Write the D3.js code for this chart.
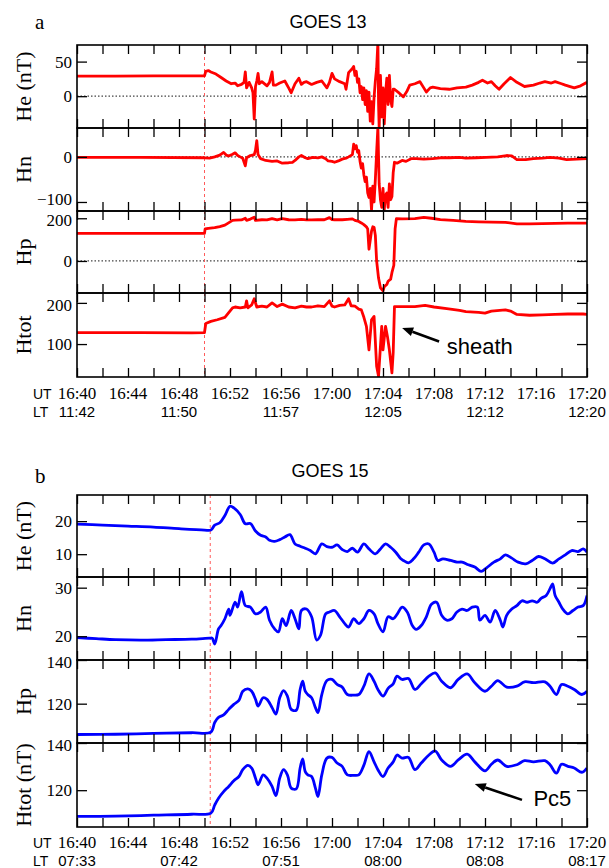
<!DOCTYPE html>
<html>
<head>
<meta charset="utf-8">
<script src="https://cdn.jsdelivr.net/npm/d3@7"></script>
<style>
  body { margin: 0; background: #fff; }
  svg { display: block; }
</style>
</head>
<body>
<svg id="chart" width="609" height="868"></svg>
<script>
// time is in minutes after 16:40 UT
const utLabels = ["16:40", "16:44", "16:48", "16:52", "16:56", "17:00", "17:04", "17:08", "17:12", "17:16", "17:20"];
const ltTimes = [0, 8, 16, 24, 32, 40];
const ltLabels13 = ["11:42", "11:50", "11:57", "12:05", "12:12", "12:20"];
const ltLabels15 = ["07:33", "07:42", "07:51", "08:00", "08:08", "08:17"];
const onset13 = 10.0;
const onset15 = 10.45;

// GOES 13 (nT)
const g13He = [[0,29],[3,29],[6,29.5],[9,29.5],[10,29.5],[10.1,36],[10.3,37],[10.5,35],[10.9,32],[11.3,27],[11.7,22],[12.1,18],[12.4,19],[12.6,15],[12.9,17],[13.1,20],[13.2,35],[13.3,12],[13.5,20],[13.7,12],[13.8,5],[13.9,-33],[14.0,14],[14.1,22],[14.2,33],[14.3,18],[14.5,21],[14.9,15],[15.1,20],[15.3,35],[15.4,16],[15.6,16],[15.9,19],[16.3,22],[16.6,12],[16.8,5],[17.1,18],[17.4,26],[17.6,17],[17.8,20],[18.0,21],[18.4,17],[18.8,20],[19.2,22],[19.6,12],[19.8,20],[20.0,33],[20.2,25],[20.6,21],[21.0,18],[21.1,10],[21.3,34],[21.6,40],[21.7,43],[21.8,30],[21.9,36],[22.0,20],[22.1,25],[22.2,5],[22.3,14],[22.4,-5],[22.5,12],[22.6,-12],[22.7,8],[22.8,-22],[22.9,6],[23.0,-36],[23.1,-8],[23.2,-40],[23.3,-2],[23.4,22],[23.5,40],[23.6,78],[23.65,-10],[23.7,-46],[23.8,30],[23.9,-30],[24.0,12],[24.1,-40],[24.2,5],[24.3,26],[24.4,-12],[24.5,30],[24.6,-5],[24.7,-15],[24.8,10],[24.9,10],[25.3,4],[25.6,-1],[25.9,8],[26.1,16],[26.5,18],[26.9,21],[27.2,12],[27.4,6],[27.7,12],[27.9,13],[28.5,11],[29.2,10],[29.8,12],[30.5,13],[31.0,16],[31.5,20],[31.8,23],[32.2,19],[32.5,21],[32.8,15],[33.1,10],[33.5,18],[34.0,27],[34.5,20],[35.1,14],[35.8,16],[36.3,19],[36.7,21],[37.2,19],[37.5,21],[38.0,18],[38.3,16],[39.0,12],[39.5,15],[40,20]];
const g13Hn = [[0,-1],[5,-1],[10,-2],[10.4,-3],[10.8,0],[11.2,4],[11.5,10],[11.7,4],[11.9,2],[12.2,6],[12.4,9],[12.6,3],[12.8,0],[13.0,-3],[13.2,-20],[13.3,-2],[13.6,3],[13.9,5],[14.0,15],[14.1,36],[14.2,5],[14.4,-4],[14.8,-8],[15.3,-10],[15.7,-9],[16.1,-14],[16.6,-13],[16.9,-12],[17.1,-8],[17.4,0],[17.6,3],[17.9,-2],[18.1,-4],[18.5,-1],[18.9,-2],[19.2,0],[19.5,-4],[19.7,-9],[20.0,-10],[20.2,-12],[20.5,-9],[20.8,-5],[21.1,-3],[21.3,0],[21.6,5],[21.7,28],[21.8,18],[21.9,25],[22.0,10],[22.1,14],[22.2,-10],[22.3,-25],[22.4,-15],[22.5,-40],[22.6,-55],[22.7,-45],[22.8,-80],[22.9,-90],[23.0,-70],[23.1,-118],[23.2,-65],[23.3,-100],[23.4,-50],[23.5,10],[23.6,66],[23.65,0],[23.7,-60],[23.8,-95],[23.9,-112],[24.0,-70],[24.1,-117],[24.2,-85],[24.3,-80],[24.4,-112],[24.5,-60],[24.6,-95],[24.7,-88],[24.8,-35],[24.9,-12],[25.1,-14],[25.5,-8],[25.8,-10],[26.2,-4],[26.6,-4],[27.2,-5],[27.9,-4],[28.5,-2],[29.2,-2],[30.0,-1],[30.5,-3],[31.3,-2],[32.1,-1],[33.0,0],[33.7,3],[34.1,2],[34.5,-6],[35.2,-6],[35.8,-4],[36.5,-3],[37.1,-1],[37.8,-3],[38.4,-6],[39.2,-5],[40,-4]];
const g13Hp = [[0,129],[5,129],[10,129],[10.05,150],[10.3,153],[10.8,156],[11.2,161],[11.6,168],[12.2,190],[12.4,191],[12.9,192],[13.2,200],[13.3,190],[13.6,196],[13.9,205],[14.0,190],[14.5,193],[14.9,192],[15.3,198],[15.7,193],[16.1,198],[16.6,193],[17.1,192],[17.6,195],[18.0,192],[18.4,192],[18.9,194],[19.4,193],[19.8,203],[20.0,194],[20.2,193],[20.8,193],[21.2,195],[21.6,197],[21.8,190],[22.1,185],[22.3,178],[22.5,170],[22.7,160],[22.8,150],[22.9,55],[23.1,140],[23.2,160],[23.3,158],[23.4,120],[23.5,0],[23.65,-80],[23.8,-126],[24.0,-140],[24.1,-120],[24.3,-110],[24.4,-95],[24.6,-85],[24.7,-55],[24.85,-20],[24.95,150],[25.05,198],[25.5,197],[26.5,198],[27.2,204],[27.8,200],[28.5,194],[29.5,190],[30.5,185],[31.5,183],[32.5,182],[33.6,181],[34.5,174],[35.5,174],[36.5,175],[37.5,176],[38.5,177],[39.7,177],[40,177]];
const g13Htot = [[0,128],[5,128],[9,127],[10,128],[10.1,150],[10.5,155],[11.0,159],[11.6,165],[12.2,188],[12.4,190],[12.8,188],[13.2,190],[13.3,205],[13.4,188],[13.7,195],[13.9,210],[14.1,190],[14.5,192],[14.9,190],[15.3,200],[15.7,191],[16.1,197],[16.6,190],[17.1,188],[17.6,192],[18.0,190],[18.4,190],[18.9,193],[19.4,191],[19.8,205],[20.0,192],[20.2,190],[20.6,194],[21.0,195],[21.3,210],[21.5,193],[21.8,192],[22.1,185],[22.3,183],[22.5,165],[22.7,143],[22.9,86],[23.1,159],[23.3,167],[23.5,46],[23.65,22],[23.9,143],[24.0,86],[24.2,143],[24.35,118],[24.5,86],[24.7,30],[24.8,80],[24.9,191],[25.5,191],[26.5,191],[27.3,194],[28.0,190],[29.0,186],[30.0,182],[30.5,179],[31.5,177],[32.0,175],[32.5,180],[33.6,183],[34.0,180],[34.5,172],[35.5,170],[36.5,171],[37.5,172],[38.5,173],[39.7,173],[40,172]];

// GOES 15 (nT)
const g15He = [[0,19.1],[2,18.8],[4,18.5],[6,18.2],[8,17.7],[10,17.3],[10.5,17.3],[10.8,18.8],[11.2,19.5],[11.6,21.7],[12.0,24.5],[12.3,24.0],[12.8,22.0],[13.2,19.2],[13.6,19.3],[14.0,17.0],[14.4,15.7],[14.8,15.2],[15.1,14.2],[15.5,13.9],[15.9,14.4],[16.3,15.2],[16.7,15.9],[17.1,13.1],[17.5,12.4],[17.9,11.8],[18.3,11.1],[18.7,10.1],[19.2,13.1],[19.6,12.3],[20.0,12.1],[20.4,12.8],[20.8,11.4],[21.2,10.8],[21.6,11.8],[22.0,10.6],[22.5,13.1],[22.9,11.6],[23.4,10.1],[23.8,11.6],[24.2,13.1],[24.6,12.1],[25.0,10.6],[25.4,8.6],[25.6,8.1],[26.0,7.4],[26.4,8.6],[26.8,10.6],[27.2,12.8],[27.6,13.1],[28.0,10.6],[28.3,8.1],[28.7,8.6],[29.3,8.1],[29.8,7.6],[30.2,7.6],[30.7,6.8],[31.2,6.1],[31.7,4.8],[32.1,5.8],[32.7,7.6],[33.2,8.6],[33.6,9.8],[34.1,8.8],[34.6,7.6],[35.2,7.1],[35.7,8.1],[36.2,9.3],[36.7,8.6],[37.3,7.3],[37.8,8.6],[38.3,9.8],[38.8,11.1],[39.3,10.8],[39.7,11.6],[40,10.6]];
const g15Hn = [[0,19.7],[1.5,19.5],[3,19.3],[5,19.2],[7,19.3],[9,19.4],[10.4,19.6],[10.6,19.6],[10.8,18.4],[11.1,21.5],[11.3,22.2],[11.6,23.6],[11.9,25.6],[12.0,24.3],[12.4,27.0],[12.6,26.0],[12.9,29.2],[13.2,26.3],[13.6,26.0],[14.0,24.6],[14.4,25.0],[14.8,26.0],[15.1,23.3],[15.5,21.5],[15.8,20.9],[16.1,23.6],[16.4,22.2],[16.8,25.3],[17.1,23.6],[17.4,21.5],[17.6,25.3],[18.0,25.6],[18.4,24.0],[18.8,19.2],[19.1,20.2],[19.5,24.6],[19.8,25.0],[20.2,25.3],[20.6,24.0],[21.0,22.6],[21.3,21.9],[21.7,23.6],[22.1,22.6],[22.5,23.6],[22.9,25.3],[23.3,24.6],[23.6,22.6],[24.0,20.9],[24.4,24.0],[24.8,23.6],[25.1,24.5],[25.5,26.0],[25.9,25.0],[26.3,22.2],[26.6,21.4],[27.0,22.2],[27.4,24.0],[27.8,26.6],[28.2,27.0],[28.6,24.3],[29.0,23.3],[29.4,23.6],[29.8,25.0],[30.2,25.6],[30.6,25.3],[31.0,26.0],[31.4,26.0],[31.6,23.3],[32.0,24.3],[32.4,22.9],[32.8,25.3],[33.2,23.3],[33.4,21.9],[33.7,24.3],[34.1,25.6],[34.5,26.3],[34.9,27.3],[35.3,27.0],[35.7,27.3],[36.1,27.0],[36.4,27.8],[36.8,28.4],[37.1,29.8],[37.3,30.8],[37.5,28.4],[37.8,27.0],[38.1,25.6],[38.5,24.6],[38.9,25.3],[39.3,26.0],[39.7,26.3],[40,28.4]];
const g15Hp = [[0,105.9],[3,106.0],[6,106.4],[9,106.7],[10.5,107.0],[10.8,111.4],[11.1,113.7],[11.5,114.9],[11.9,117.4],[12.3,119.7],[12.7,121.5],[13.0,125.7],[13.4,126.8],[13.7,125.7],[14.0,122.0],[14.2,118.9],[14.6,122.7],[14.9,122.0],[15.3,118.2],[15.6,115.2],[15.9,122.7],[16.2,126.0],[16.5,123.5],[16.8,117.4],[17.2,117.0],[17.5,126.5],[17.7,130.3],[17.9,125.7],[18.1,124.2],[18.4,122.7],[18.7,118.2],[18.9,115.9],[19.2,124.2],[19.6,130.6],[20.0,131.1],[20.4,128.8],[20.8,127.6],[21.2,124.2],[21.7,123.9],[22.1,124.2],[22.5,128.0],[22.9,133.6],[23.3,130.3],[23.6,126.5],[24.0,123.5],[24.4,127.0],[24.8,129.1],[25.1,132.6],[25.5,131.1],[26.0,131.5],[26.5,126.5],[27.0,129.1],[27.6,132.6],[28.1,134.1],[28.6,130.3],[29.3,127.3],[29.9,131.1],[30.6,133.6],[31.2,129.6],[32.0,125.7],[32.5,128.0],[33.0,130.6],[33.7,127.6],[34.5,128.0],[35.1,130.0],[35.8,129.6],[36.7,130.0],[37.1,128.0],[37.6,124.2],[38.0,128.8],[38.5,128.0],[39.0,126.5],[39.6,124.2],[40,125.7]];
const g15Htot = [[0,108.9],[3,109.0],[6,109.4],[9,109.8],[10.5,110.3],[10.8,113.7],[11.1,116.6],[11.5,119.4],[11.9,121.6],[12.3,124.0],[12.7,125.8],[13.0,128.7],[13.4,130.5],[13.7,129.4],[14.0,125.1],[14.2,122.3],[14.6,126.5],[14.9,125.1],[15.3,121.6],[15.6,117.7],[15.9,125.1],[16.2,128.7],[16.5,126.5],[16.8,120.9],[17.2,120.6],[17.5,129.4],[17.7,133.3],[17.9,127.9],[18.1,126.5],[18.4,125.8],[18.7,120.9],[18.9,117.3],[19.2,126.5],[19.6,133.6],[20.0,133.9],[20.4,131.5],[20.8,130.1],[21.2,126.5],[21.7,126.3],[22.1,126.5],[22.5,130.6],[22.9,136.3],[23.3,132.0],[23.6,128.7],[24.0,125.8],[24.4,129.4],[24.8,132.0],[25.1,134.9],[25.5,133.6],[26.0,133.9],[26.5,128.7],[27.0,131.5],[27.6,134.9],[28.1,136.6],[28.6,132.8],[29.3,130.1],[29.9,132.8],[30.6,135.3],[31.2,132.0],[32.0,128.2],[32.5,131.0],[33.0,132.8],[33.7,130.1],[34.5,130.8],[35.1,132.5],[35.8,132.0],[36.7,132.5],[37.1,130.8],[37.6,127.2],[38.0,131.0],[38.5,130.1],[39.0,129.4],[39.6,127.6],[40,129.4]];

const svg = d3.select("#chart");
const serif = "'Liberation Serif', 'DejaVu Serif', serif";
const sans = "'Liberation Sans', Arial, sans-serif";

const x = d3.scaleLinear().domain([0, 40]).range([77, 587]);

// panel definitions
const panels13 = [
    { label: "He (nT)", data: g13He, domain: [-46, 74], ticks: [0, 50], zero: true, top: 45, bottom: 128 },
    { label: "Hn", data: g13Hn, domain: [-120, 64], ticks: [-100, 0], zero: true, top: 128, bottom: 211 },
    { label: "Hp", data: g13Hp, domain: [-150, 234], ticks: [0, 200], zero: true, top: 211, bottom: 293 },
    { label: "Htot", data: g13Htot, domain: [20, 224], ticks: [100, 200], zero: false, top: 293, bottom: 377 }
];
const panels15 = [
    { label: "He (nT)", data: g15He, domain: [3.1, 27.9], ticks: [10, 20], zero: false, top: 495, bottom: 577 },
    { label: "Hn", data: g15Hn, domain: [15.1, 32.2], ticks: [20, 30], zero: false, top: 577, bottom: 660 },
    { label: "Hp", data: g15Hp, domain: [102, 140], ticks: [120, 140], zero: false, top: 660, bottom: 743 },
    { label: "Htot (nT)", data: g15Htot, domain: [104.4, 140], ticks: [120, 140], zero: false, top: 743, bottom: 827 }
];

let clipId = 0;

function drawPanel(p, color, onset, curve) {
    const y = d3.scaleLinear().domain(p.domain).range([p.bottom, p.top]);
    const g = svg.append("g");
    const id = "clip" + (clipId++);
    g.append("clipPath").attr("id", id)
        .append("rect")
        .attr("x", x(0)).attr("y", p.top)
        .attr("width", x(40) - x(0)).attr("height", p.bottom - p.top);

    if (p.zero) {
        g.append("line")
            .attr("x1", x(0)).attr("x2", x(40))
            .attr("y1", y(0)).attr("y2", y(0))
            .attr("stroke", "#444").attr("stroke-width", 1.2)
            .attr("stroke-dasharray", "1.5,2");
    }

    // onset marker
    g.append("line")
        .attr("x1", x(onset)).attr("x2", x(onset))
        .attr("y1", p.top).attr("y2", p.bottom)
        .attr("stroke", "#ff5a5a").attr("stroke-width", 1)
        .attr("stroke-dasharray", "3,3");

    const line = d3.line().curve(curve).x(d => x(d[0])).y(d => y(d[1]));
    g.append("path")
        .attr("clip-path", "url(#" + id + ")")
        .attr("d", line(p.data))
        .attr("fill", "none")
        .attr("stroke", color)
        .attr("stroke-width", 2.8)
        .attr("stroke-linejoin", "round");

    // ticks, all pointing inward
    const tv = d3.range(0, 41, 2);
    const axes = [
        [d3.axisTop(x).tickValues(tv).tickSize(-9).tickFormat(""), 0, p.top],
        [d3.axisBottom(x).tickValues(tv).tickSize(-9).tickFormat(""), 0, p.bottom],
        [d3.axisLeft(y).tickValues(p.ticks).tickSize(-10).tickPadding(5), x(0), 0],
        [d3.axisRight(y).tickValues(p.ticks).tickSize(-10).tickFormat(""), x(40), 0]
    ];
    axes.forEach(a => {
        const ag = g.append("g").attr("transform", `translate(${a[1]},${a[2]})`).call(a[0]);
        ag.select(".domain").remove();
        ag.selectAll(".tick line").attr("stroke", "#000").attr("stroke-width", 1.3);
        ag.selectAll(".tick text")
            .attr("font-family", serif).attr("font-size", 17).attr("fill", "#000")
            // labels that sit near a panel edge are pulled a little inside
            .attr("y", d => y(d) - p.top < 10 ? 2 : (p.bottom - y(d) < 12 ? -2.5 : 0));
    });

    g.append("rect")
        .attr("x", x(0)).attr("y", p.top)
        .attr("width", x(40) - x(0)).attr("height", p.bottom - p.top)
        .attr("fill", "none").attr("stroke", "#000").attr("stroke-width", 1.6);

    g.append("text")
        .attr("transform", `translate(31,${(p.top + p.bottom) / 2}) rotate(-90)`)
        .attr("text-anchor", "middle")
        .attr("font-family", serif).attr("font-size", 22)
        .text(p.label);

    return y;
}

function drawTimeLabels(base, ltLabels) {
    svg.append("text").attr("x", 33).attr("y", base)
        .attr("font-family", sans).attr("font-size", 14).text("UT");
    svg.append("g").selectAll("text").data(utLabels).enter().append("text")
        .attr("x", (d, i) => x(i * 4)).attr("y", base)
        .attr("text-anchor", "middle")
        .attr("font-family", serif).attr("font-size", 17)
        .text(d => d);
    svg.append("text").attr("x", 33).attr("y", base + 18)
        .attr("font-family", sans).attr("font-size", 14).text("LT");
    svg.append("g").selectAll("text").data(ltLabels).enter().append("text")
        .attr("x", (d, i) => x(ltTimes[i])).attr("y", base + 18)
        .attr("text-anchor", "middle")
        .attr("font-family", sans).attr("font-size", 15)
        .text(d => d);
}

function arrow(x1, y1, x2, y2) {
    const ang = Math.atan2(y2 - y1, x2 - x1);
    const len = 11, wid = 4.5;
    const bx = x2 - len * Math.cos(ang), by = y2 - len * Math.sin(ang);
    svg.append("line").attr("x1", x1).attr("y1", y1).attr("x2", bx).attr("y2", by)
        .attr("stroke", "#000").attr("stroke-width", 2.6);
    svg.append("path")
        .attr("d", `M${x2},${y2}L${bx - wid * Math.sin(ang)},${by + wid * Math.cos(ang)}L${bx + wid * Math.sin(ang)},${by - wid * Math.cos(ang)}Z`)
        .attr("fill", "#000");
}

// panel a
svg.append("text").attr("x", 35).attr("y", 29)
    .attr("font-family", serif).attr("font-size", 21).text("a");
svg.append("text").attr("x", 328).attr("y", 28).attr("text-anchor", "middle")
    .attr("font-family", sans).attr("font-size", 18).text("GOES 13");
const ys13 = panels13.map(p => drawPanel(p, "#ff0000", onset13, d3.curveLinear));
drawTimeLabels(399, ltLabels13);

const yH13 = ys13[3];
arrow(x(28.4), yH13(106), x(25.5), yH13(139));
svg.append("text").attr("x", x(29.0)).attr("y", yH13(77))
    .attr("font-family", sans).attr("font-size", 22).text("sheath");

// panel b
svg.append("text").attr("x", 35).attr("y", 483)
    .attr("font-family", serif).attr("font-size", 21).text("b");
svg.append("text").attr("x", 330).attr("y", 477).attr("text-anchor", "middle")
    .attr("font-family", sans).attr("font-size", 18).text("GOES 15");
const ys15 = panels15.map(p => drawPanel(p, "#0000ff", onset15, d3.curveCatmullRom.alpha(0.5)));
drawTimeLabels(848, ltLabels15);

const yH15 = ys15[3];
arrow(x(34.9), yH15(115.9), x(31.2), yH15(122.6));
svg.append("text").attr("x", x(35.8)).attr("y", yH15(113.2))
    .attr("font-family", sans).attr("font-size", 22).text("Pc5");
</script>
</body>
</html>
